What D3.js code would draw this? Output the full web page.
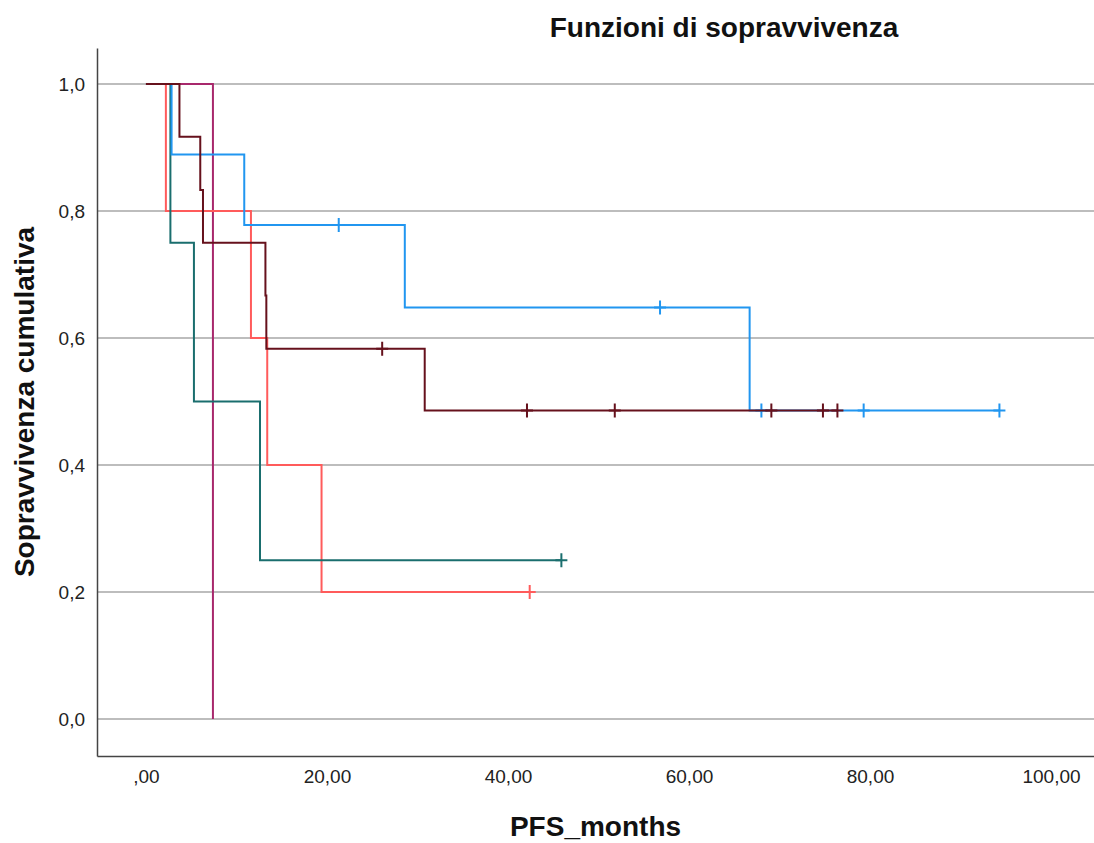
<!DOCTYPE html>
<html>
<head>
<meta charset="utf-8">
<script src="https://cdn.jsdelivr.net/npm/d3@7"></script>
<style>
  body { margin: 0; background: #fff; }
  text { font-family: "Liberation Sans", Arial, sans-serif; }
</style>
</head>
<body>
<div id="chart"></div>
<script>
// Kaplan-Meier step curves (time in months, cumulative survival)
const blueTimes = [0, 2.83, 10.86, 28.6, 66.7, 94.3];
const blueSurv = [1, 0.889, 0.778, 0.648, 0.486, 0.486];
const blueCensT = [21.3, 56.8, 68.0, 79.3, 94.3];
const blueCensS = [0.778, 0.648, 0.486, 0.486, 0.486];

const darkTimes = [0, 3.7, 6.0, 6.3, 13.2, 13.3, 30.8, 76.4];
const darkSurv = [1, 0.917, 0.833, 0.75, 0.667, 0.583, 0.486, 0.486];
const darkCensT = [26.1, 42.1, 51.8, 69.1, 74.8, 76.4];
const darkCensS = [0.583, 0.486, 0.486, 0.486, 0.486, 0.486];

const redTimes = [0, 2.2, 11.6, 13.4, 19.4, 42.4];
const redSurv = [1, 0.8, 0.6, 0.4, 0.2, 0.2];
const redCensT = [42.4];
const redCensS = [0.2];

const tealTimes = [0, 2.7, 5.3, 12.6, 45.9];
const tealSurv = [1, 0.75, 0.5, 0.25, 0.25];
const tealCensT = [45.9];
const tealCensS = [0.25];

const magTimes = [0, 7.4];
const magSurv = [1, 0];

const xTicks = [0, 20, 40, 60, 80, 100];
const xTickLabels = [',00', '20,00', '40,00', '60,00', '80,00', '100,00'];
const yTicks = [0, 0.2, 0.4, 0.6, 0.8, 1.0];
const yTickLabels = ['0,0', '0,2', '0,4', '0,6', '0,8', '1,0'];

const W = 1094, H = 843;
const plotL = 97, plotR = 1094, plotT = 48, plotB = 756;

const x = d3.scaleLinear().domain([-5.41, 104.75]).range([plotL, plotR]);
const y = d3.scaleLinear().domain([-0.0583, 1.0567]).range([plotB, plotT]);

const svg = d3.select('#chart').append('svg')
  .attr('width', W)
  .attr('height', H);

// gridlines
svg.append('g')
  .selectAll('line')
  .data(yTicks)
  .enter().append('line')
  .attr('x1', plotL)
  .attr('x2', plotR)
  .attr('y1', d => y(d))
  .attr('y2', d => y(d))
  .attr('stroke', '#bdbdbd')
  .attr('stroke-width', 2);

// axes
svg.append('g')
  .attr('transform', `translate(${plotL},0)`)
  .call(d3.axisLeft(y).tickValues(yTicks).tickSize(0).tickPadding(12)
    .tickFormat((d, i) => yTickLabels[i]))
  .call(g => g.select('.domain').attr('stroke', '#444').attr('stroke-width', 1.5))
  .call(g => g.selectAll('text').attr('font-size', 19).attr('fill', '#222')
    .attr('font-family', '"Liberation Sans", Arial, sans-serif'));

svg.append('g')
  .attr('transform', `translate(0,${plotB})`)
  .call(d3.axisBottom(x).tickValues(xTicks).tickSize(0).tickPadding(14)
    .tickFormat((d, i) => xTickLabels[i]))
  .call(g => g.select('.domain').attr('stroke', '#444').attr('stroke-width', 1.5))
  .call(g => g.selectAll('text').attr('font-size', 19).attr('fill', '#222')
    .attr('font-family', '"Liberation Sans", Arial, sans-serif'));

// curves
const line = d3.line()
  .x(d => x(d[0]))
  .y(d => y(d[1]))
  .curve(d3.curveStepAfter);

const groups = [
  { color: '#a8286c', t: magTimes, s: magSurv, ct: [], cs: [] },
  { color: '#ff5b5b', t: redTimes, s: redSurv, ct: redCensT, cs: redCensS },
  { color: '#1a6e6e', t: tealTimes, s: tealSurv, ct: tealCensT, cs: tealCensS },
  { color: '#2196f0', t: blueTimes, s: blueSurv, ct: blueCensT, cs: blueCensS },
  { color: '#66111c', t: darkTimes, s: darkSurv, ct: darkCensT, cs: darkCensS }
];

groups.forEach(g => {
  const pts = g.t.map((t, i) => [t, g.s[i]]);
  svg.append('path')
    .datum(pts)
    .attr('fill', 'none')
    .attr('stroke', g.color)
    .attr('stroke-width', 2)
    .attr('d', line);

  const cens = g.ct.map((t, i) => [t, g.cs[i]]);
  svg.append('g')
    .selectAll('path')
    .data(cens)
    .enter().append('path')
    .attr('d', d => {
      const cx = x(d[0]), cy = y(d[1]);
      return `M${cx - 6},${cy}H${cx + 6}M${cx},${cy - 7}V${cy + 7}`;
    })
    .attr('stroke', g.color)
    .attr('stroke-width', 2)
    .attr('fill', 'none');
});

// titles
svg.append('text')
  .attr('x', 724)
  .attr('y', 37)
  .attr('text-anchor', 'middle')
  .attr('font-size', 28)
  .attr('font-weight', 'bold')
  .attr('fill', '#111')
  .text('Funzioni di sopravvivenza');

svg.append('text')
  .attr('x', (plotL + plotR) / 2)
  .attr('y', 836)
  .attr('text-anchor', 'middle')
  .attr('font-size', 28)
  .attr('font-weight', 'bold')
  .attr('fill', '#111')
  .text('PFS_months');

svg.append('text')
  .attr('transform', `translate(34,${(plotT + plotB) / 2}) rotate(-90)`)
  .attr('text-anchor', 'middle')
  .attr('font-size', 28)
  .attr('font-weight', 'bold')
  .attr('fill', '#111')
  .text('Sopravvivenza cumulativa');
</script>
</body>
</html>
